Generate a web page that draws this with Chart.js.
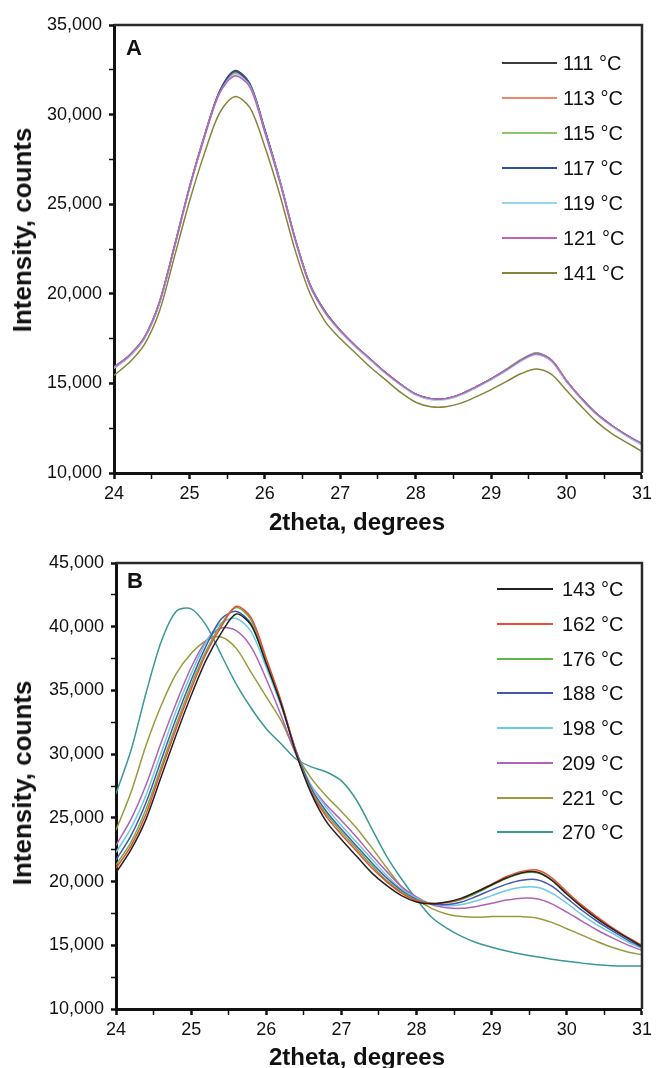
<!DOCTYPE html>
<html lang="en">
<head>
<meta charset="UTF-8">
<title>XRD peaks vs temperature</title>
<style>
  html, body { margin: 0; padding: 0; overflow: hidden; background: #fff; }
  body { width: 656px; height: 1068px; position: relative; font-family: "Liberation Sans", Arial, sans-serif; color: #111; }
  canvas { position: absolute; left: 0; }
  #cvsA { top: 0; }
  #cvsB { top: 540px; }
  .panel { position: absolute; font-weight: bold; font-size: 22px; line-height: 22px; }
  .row { position: absolute; height: 24px; display: flex; align-items: center; white-space: nowrap; font-size: 20px; }
  .row .line { display: inline-block; height: 2px; }
  .axt { position: absolute; font-weight: bold; white-space: nowrap; line-height: 1; transform: translate(-50%, -50%); }
  .axt.yt { font-size: 26px; transform: translate(-50%, -50%) rotate(-90deg); }
  .axt.xt { font-size: 24px; }
</style>
</head>
<body>
<canvas id="cvsA" width="656" height="540"></canvas>
<canvas id="cvsB" width="656" height="535"></canvas>
<div class="panel" style="left:126px; top:37px;">A</div>
<div class="panel" style="left:127px; top:570px;">B</div>
<div class="axt yt" style="left:22px; top:230px;">Intensity, counts</div>
<div class="axt xt" style="left:357px; top:522px;">2theta, degrees</div>
<div class="axt yt" style="left:22px; top:783px;">Intensity, counts</div>
<div class="axt xt" style="left:357px; top:1057px;">2theta, degrees</div>
<div id="legA"></div>
<div id="legB"></div>

<script src="https://cdn.jsdelivr.net/npm/chart.js@4.4.1/dist/chart.umd.min.js"></script>
<script>
// 2theta positions (degrees)
const twoTheta = [24.0, 24.2, 24.4, 24.6, 24.8, 25.0, 25.2, 25.4, 25.6, 25.8, 26.0, 26.2, 26.4, 26.6, 26.8, 27.0, 27.2, 27.4,
                  27.6, 27.8, 28.0, 28.2, 28.4, 28.6, 28.8, 29.0, 29.2, 29.4, 29.6, 29.8, 30.0, 30.2, 30.4, 30.6, 30.8, 31.0];

// panel A
const labelsA = ['111 °C', '113 °C', '115 °C', '117 °C', '119 °C', '121 °C', '141 °C'];
const colorsA = ['#3c3c3c', '#f4846c', '#8cc66a', '#2c4ca8', '#94d6ec', '#c060b8', '#86843a'];
const a111 = [15900, 16550, 17550, 19500, 22650, 25950, 28850, 31300, 32450, 31750, 29150, 26300, 23100, 20500, 19000, 17950, 17100, 16350,
              15600, 14950, 14400, 14150, 14150, 14400, 14800, 15250, 15750, 16300, 16700, 16300, 15150, 14150, 13300, 12650, 12100, 11600];
const a113 = [15850, 16500, 17500, 19450, 22600, 25900, 28800, 31250, 32300, 31650, 29100, 26250, 23050, 20450, 18950, 17900, 17050, 16300,
              15600, 14950, 14400, 14100, 14150, 14400, 14800, 15250, 15750, 16300, 16650, 16300, 15150, 14150, 13300, 12650, 12100, 11600];
const a115 = [15900, 16550, 17550, 19500, 22650, 25900, 28800, 31250, 32350, 31700, 29100, 26300, 23100, 20500, 19000, 17950, 17100, 16350,
              15600, 14950, 14400, 14150, 14150, 14400, 14800, 15250, 15800, 16350, 16700, 16300, 15150, 14150, 13300, 12650, 12100, 11600];
const a117 = [15850, 16500, 17500, 19450, 22600, 25900, 28800, 31300, 32400, 31700, 29150, 26300, 23100, 20500, 19000, 17950, 17100, 16350,
              15600, 14950, 14400, 14150, 14150, 14400, 14800, 15250, 15750, 16300, 16650, 16250, 15100, 14150, 13300, 12650, 12100, 11600];
const a119 = [15850, 16500, 17500, 19450, 22550, 25850, 28750, 31200, 32200, 31600, 29050, 26250, 23050, 20450, 18950, 17900, 17050, 16300,
              15550, 14900, 14350, 14100, 14100, 14350, 14750, 15200, 15700, 16250, 16600, 16250, 15100, 14100, 13250, 12600, 12050, 11550];
const a121 = [15900, 16550, 17550, 19500, 22600, 25900, 28750, 31200, 32150, 31550, 29000, 26200, 23050, 20450, 18950, 17950, 17100, 16350,
              15600, 14950, 14400, 14150, 14150, 14400, 14800, 15250, 15750, 16300, 16650, 16300, 15150, 14150, 13300, 12650, 12100, 11650];
const a141 = [15450, 16150, 17150, 19000, 22050, 25150, 27850, 30100, 31000, 30400, 28200, 25500, 22450, 20000, 18450, 17500, 16700, 15900,
              15200, 14500, 13950, 13700, 13700, 13900, 14250, 14650, 15100, 15550, 15800, 15500, 14600, 13700, 12850, 12200, 11700, 11200];

// panel B
const labelsB = ['143 °C', '162 °C', '176 °C', '188 °C', '198 °C', '209 °C', '221 °C', '270 °C'];
const colorsB = ['#222222', '#ee4a30', '#5cb848', '#4656b0', '#6ccbe6', '#b062b8', '#9a9a3c', '#3a9898'];
const b143 = [20700, 22500, 24900, 28200, 31500, 34600, 37400, 39500, 41000, 40100, 37100, 33900, 30000, 26900, 24700, 23300, 22000, 20700,
              19700, 18900, 18400, 18250, 18400, 18700, 19200, 19750, 20300, 20700, 20750, 20100, 19000, 18000, 17100, 16300, 15600, 14900];
const b162 = [21050, 22800, 25300, 28700, 32000, 35100, 37900, 40000, 41600, 40700, 37500, 34100, 30100, 27000, 25100, 23700, 22400, 21100,
              20000, 19100, 18500, 18300, 18350, 18650, 19200, 19800, 20400, 20800, 20900, 20300, 19200, 18150, 17250, 16400, 15650, 15000];
const b176 = [21300, 23100, 25700, 29000, 32300, 35400, 38100, 40200, 41500, 40500, 37300, 34000, 30100, 27100, 25300, 23900, 22600, 21300,
              20100, 19200, 18550, 18300, 18350, 18600, 19100, 19700, 20250, 20650, 20700, 20150, 19100, 18050, 17150, 16350, 15600, 14950];
const b188 = [21700, 23600, 26200, 29500, 32800, 35800, 38500, 40600, 41200, 40200, 37200, 33900, 30200, 27300, 25500, 24100, 22800, 21500,
              20300, 19300, 18600, 18250, 18200, 18400, 18850, 19350, 19800, 20100, 20150, 19650, 18700, 17750, 16900, 16150, 15450, 14850];
const b198 = [22300, 24200, 26800, 30100, 33400, 36300, 38800, 40300, 40650, 39600, 36800, 33700, 30200, 27500, 25800, 24400, 23100, 21800,
              20500, 19400, 18700, 18250, 18100, 18200, 18500, 18900, 19300, 19550, 19550, 19100, 18300, 17400, 16600, 15950, 15300, 14750];
const b209 = [22850, 24900, 27600, 30900, 34000, 36800, 38900, 39900, 39700, 38400, 35900, 33000, 29900, 27500, 26000, 24800, 23500, 22100,
              20800, 19600, 18800, 18200, 17950, 17900, 18050, 18300, 18550, 18700, 18650, 18250, 17600, 16900, 16200, 15600, 15050, 14600];
const b221 = [24050, 27000, 30700, 33800, 36300, 37900, 38900, 39200, 38300, 36400, 34500, 32600, 30000, 28100, 26700, 25500, 24200, 22700,
              21100, 19600, 18600, 17900, 17450, 17250, 17200, 17250, 17250, 17250, 17150, 16800, 16300, 15800, 15300, 14850, 14500, 14250];
const b270 = [26900, 30300, 34800, 38800, 41200, 41400, 40100, 37800, 35500, 33600, 32000, 30800, 29600, 29000, 28600, 27900, 26400, 24200,
              22000, 20200, 18600, 17200, 16350, 15700, 15200, 14850, 14550, 14300, 14100, 13900, 13750, 13600, 13480, 13400, 13370, 13370];

Chart.defaults.font.family = '"Liberation Sans", Arial, sans-serif';
Chart.defaults.color = '#111';

// top and right edges of the plot frame
const framePlugin = {
    id: 'frame',
    afterDatasetsDraw(chart) {
        const { ctx, chartArea: a } = chart;
        ctx.save();
        ctx.strokeStyle = '#2a2a2a';
        ctx.lineWidth = 2.5;
        ctx.beginPath();
        ctx.moveTo(a.left, a.top);
        ctx.lineTo(a.right, a.top);
        ctx.lineTo(a.right, a.bottom);
        ctx.stroke();
        ctx.restore();
    }
};

function makeChart(id, box, series, labels, colors, yMax, order) {
    const ctx = document.getElementById(id).getContext('2d');
    return new Chart(ctx, {
        type: 'line',
        data: {
            datasets: series.map((s, i) => ({
                label: labels[i],
                data: s.map((v, j) => ({ x: twoTheta[j], y: v })),
                borderColor: colors[i],
                borderWidth: 1.5,
                pointRadius: 0,
                tension: 0.3,
                fill: false,
                order: order[i]
            }))
        },
        options: {
            responsive: false,
            animation: false,
            events: [],
            layout: { padding: { top: box.top, right: 656 - box.right, left: 0, bottom: 0 } },
            plugins: { legend: { display: false }, tooltip: { enabled: false } },
            scales: {
                x: {
                    type: 'linear', min: 24, max: 31,
                    afterFit: s => { s.height = box.height - box.bottom; },
                    ticks: {
                        stepSize: 0.5, autoSkip: false, maxRotation: 0, padding: 4,
                        font: { size: 18 },
                        callback: v => Number.isInteger(v) ? v : ''
                    },
                    grid: {
                        drawOnChartArea: false, tickLength: 6, tickColor: '#111',
                        tickWidth: c => Number.isInteger(c.tick.value) ? 2.5 : 1.5
                    },
                    border: { color: '#111', width: 3 }
                },
                y: {
                    min: 10000, max: yMax,
                    afterFit: s => { s.width = box.left; },
                    ticks: {
                        stepSize: 2500, autoSkip: false, padding: 7,
                        font: { size: 18 },
                        callback: v => v % 5000 === 0 ? v.toLocaleString('en-US') : ''
                    },
                    grid: {
                        drawOnChartArea: false, tickLength: 5, tickColor: '#111',
                        tickWidth: c => c.tick.value % 5000 === 0 ? 2.5 : 1.5
                    },
                    border: { color: '#111', width: 3 }
                }
            }
        },
        plugins: [framePlugin]
    });
}

function makeLegend(id, labels, colors, lineLeft, lineLen, gap, firstY, stepY) {
    const host = document.getElementById(id);
    labels.forEach((t, i) => {
        const row = document.createElement('div');
        row.className = 'row';
        row.style.left = lineLeft + 'px';
        row.style.top = Math.round(firstY + i * stepY - 12) + 'px';
        const line = document.createElement('span');
        line.className = 'line';
        line.style.width = lineLen + 'px';
        line.style.marginRight = gap + 'px';
        line.style.background = colors[i];
        const txt = document.createElement('span');
        txt.textContent = t;
        row.appendChild(line);
        row.appendChild(txt);
        host.appendChild(row);
    });
}

makeChart('cvsA', { left: 114, top: 25, right: 645, bottom: 473, height: 540 },
    [a111, a113, a115, a117, a119, a121, a141], labelsA, colorsA, 35000, [6, 5, 4, 3, 2, 0, 1]);
makeChart('cvsB', { left: 116, top: 23, right: 645, bottom: 469, height: 535 },
    [b143, b162, b176, b188, b198, b209, b221, b270], labelsB, colorsB, 45000, [0, 1, 2, 3, 4, 5, 6, 7]);

makeLegend('legA', labelsA, colorsA, 502, 55, 6, 63, 35);
makeLegend('legB', labelsB, colorsB, 497, 56, 9, 589, 34.75);
</script>
</body>
</html>
